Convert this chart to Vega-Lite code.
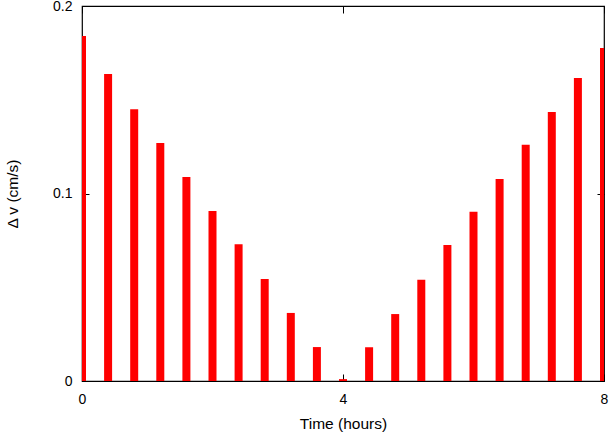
{
  "$schema": "https://vega.github.io/schema/vega-lite/v6.json",
  "width": 522,
  "height": 375,
  "autosize": {"type": "none"},
  "padding": {"left": 82, "top": 6, "right": 7, "bottom": 55},
  "background": "white",
  "config": {
    "view": {"stroke": "#000", "strokeWidth": 1.2},
    "font": "Liberation Sans",
    "axis": {
      "grid": false,
      "domain": false,
      "tickColor": "#000",
      "tickSize": -7,
      "tickWidth": 1,
      "labelColor": "#000",
      "titleColor": "#000",
      "labelFontSize": 14,
      "titleFontSize": 15.5,
      "titleFontWeight": "normal",
      "labelFont": "Liberation Sans",
      "titleFont": "Liberation Sans"
    }
  },
  "data": {
    "values": [
      {"t": 0.0, "dv": 0.184},
      {"t": 0.4, "dv": 0.1637},
      {"t": 0.8, "dv": 0.145},
      {"t": 1.2, "dv": 0.127},
      {"t": 1.6, "dv": 0.1088},
      {"t": 2.0, "dv": 0.0907},
      {"t": 2.4, "dv": 0.073},
      {"t": 2.8, "dv": 0.0544},
      {"t": 3.2, "dv": 0.0363},
      {"t": 3.6, "dv": 0.0181},
      {"t": 4.0, "dv": 0.001},
      {"t": 4.4, "dv": 0.018},
      {"t": 4.8, "dv": 0.0357},
      {"t": 5.2, "dv": 0.054},
      {"t": 5.6, "dv": 0.0725},
      {"t": 6.0, "dv": 0.0903},
      {"t": 6.4, "dv": 0.1077},
      {"t": 6.8, "dv": 0.126},
      {"t": 7.2, "dv": 0.1435},
      {"t": 7.6, "dv": 0.1616},
      {"t": 8.0, "dv": 0.1776}
    ]
  },
  "resolve": {"axis": {"x": "independent", "y": "independent"}},
  "layer": [
    {
      "mark": {"type": "bar", "color": "#ff0000", "size": 8, "clip": true},
      "encoding": {
        "x": {
          "field": "t", "type": "quantitative",
          "scale": {"domain": [0, 8], "nice": false, "zero": false, "padding": 0},
          "axis": {"values": [0, 4, 8], "title": "Time (hours)", "labelPadding": 18, "titlePadding": 10, "labelFlush": false}
        },
        "y": {
          "field": "dv", "type": "quantitative",
          "scale": {"domain": [0, 0.2], "nice": false},
          "axis": {"values": [0, 0.1, 0.2], "format": "~g", "title": "Δ v (cm/s)", "labelPadding": 17, "titlePadding": 32}
        }
      }
    },
    {
      "mark": {"type": "point", "opacity": 0},
      "encoding": {
        "x": {
          "field": "t", "type": "quantitative",
          "axis": {"orient": "top", "values": [0, 4, 8], "labels": false, "title": null}
        },
        "y": {
          "field": "dv", "type": "quantitative",
          "axis": {"orient": "right", "values": [0, 0.1, 0.2], "labels": false, "title": null}
        }
      }
    }
  ]
}
